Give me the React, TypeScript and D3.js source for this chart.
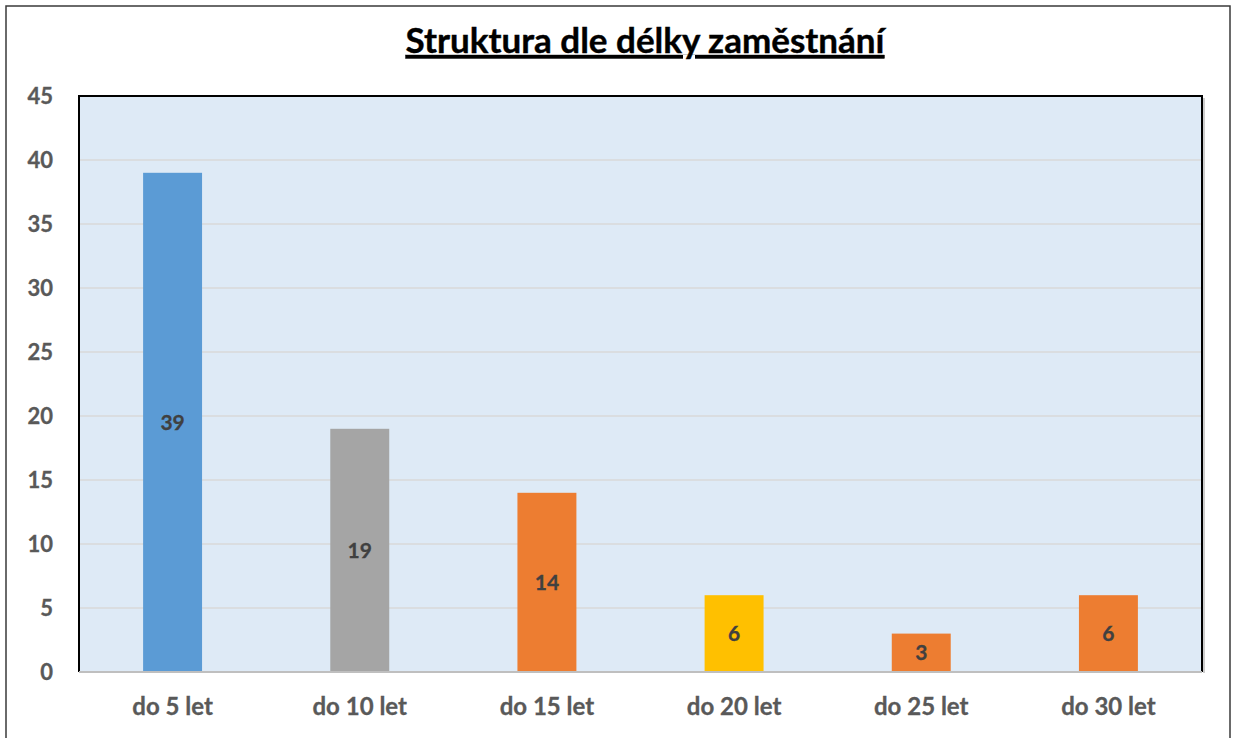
import React from "react";
import * as d3 from "d3";

const categories = ["do 5 let", "do 10 let", "do 15 let", "do 20 let", "do 25 let", "do 30 let"];
const values = [39, 19, 14, 6, 3, 6];
const barColors = ["#5B9BD5", "#A5A5A5", "#ED7D31", "#FFC000", "#ED7D31", "#ED7D31"];
const yTicks = [0, 5, 10, 15, 20, 25, 30, 35, 40, 45];
const title = "Struktura dle délky zaměstnání";

const W = 1233;
const H = 738;
const plot = { left: 79, top: 96, right: 1202, bottom: 672 };
const FONT = "Lato, 'Open Sans', sans-serif";

export default function App() {
  const x = d3
    .scaleBand<string>()
    .domain(categories)
    .range([plot.left, plot.right])
    .paddingInner(0.685)
    .paddingOuter(0.3425);
  const y = d3.scaleLinear().domain([0, 45]).range([plot.bottom, plot.top]);

  return (
    <svg
      width={W}
      height={H}
      style={{ position: "absolute", left: 0, top: 0, display: "block", background: "#fff" }}
      fontFamily={FONT}
    >
      <rect x={6} y={6} width={1224} height={H + 20} fill="#fff" stroke="#3a3a3a" strokeWidth={1.5} />
      <text
        x={645}
        y={53}
        textAnchor="middle"
        fontSize={35}
        fontWeight={700}
        fill="#000"
        stroke="#000"
        strokeWidth={0.4}
        textDecoration="underline"
      >
        {title}
      </text>
      <rect
        x={plot.left}
        y={plot.top}
        width={plot.right - plot.left}
        height={plot.bottom - plot.top}
        fill="#DEEAF6"
      />
      {yTicks.filter((t) => t > 0 && t < 45).map((t) => (
        <line
          key={"g" + t}
          x1={plot.left}
          x2={plot.right}
          y1={y(t)}
          y2={y(t)}
          stroke="#D9D9D9"
          strokeWidth={1.5}
        />
      ))}
      {categories.map((c, i) => (
        <rect
          key={"b" + c}
          x={x(c)}
          y={y(values[i])}
          width={x.bandwidth()}
          height={y(0) - y(values[i])}
          fill={barColors[i]}
        />
      ))}
      {categories.map((c, i) => (
        <text
          key={"l" + c}
          x={(x(c) as number) + x.bandwidth() / 2}
          y={y(values[i] / 2)}
          dy="0.36em"
          textAnchor="middle"
          fontSize={21}
          fontWeight={700}
          fill="#404040"
          stroke="#404040"
          strokeWidth={0.3}
        >
          {values[i]}
        </text>
      ))}
      <line x1={plot.right + 2} x2={plot.right + 2} y1={plot.top + 2} y2={plot.bottom + 1} stroke="#9a9a9a" strokeWidth={1} />
      <path
        d={`M${plot.left},${plot.bottom} V${plot.top} H${plot.right} V${plot.bottom}`}
        fill="none"
        stroke="#000"
        strokeWidth={2}
      />
      <line x1={plot.left} x2={plot.right} y1={plot.bottom} y2={plot.bottom} stroke="#BFBFBF" strokeWidth={2} />
      {yTicks.map((t) => (
        <text
          key={"t" + t}
          x={53}
          y={y(t)}
          dy="0.36em"
          textAnchor="end"
          fontSize={22}
          fontWeight={700}
          fill="#595959"
          stroke="#595959"
          strokeWidth={0.3}
        >
          {t}
        </text>
      ))}
      {categories.map((c) => (
        <text
          key={"c" + c}
          x={(x(c) as number) + x.bandwidth() / 2}
          y={715}
          textAnchor="middle"
          fontSize={24}
          fontWeight={700}
          fill="#595959"
          stroke="#595959"
          strokeWidth={0.3}
        >
          {c}
        </text>
      ))}
    </svg>
  );
}
